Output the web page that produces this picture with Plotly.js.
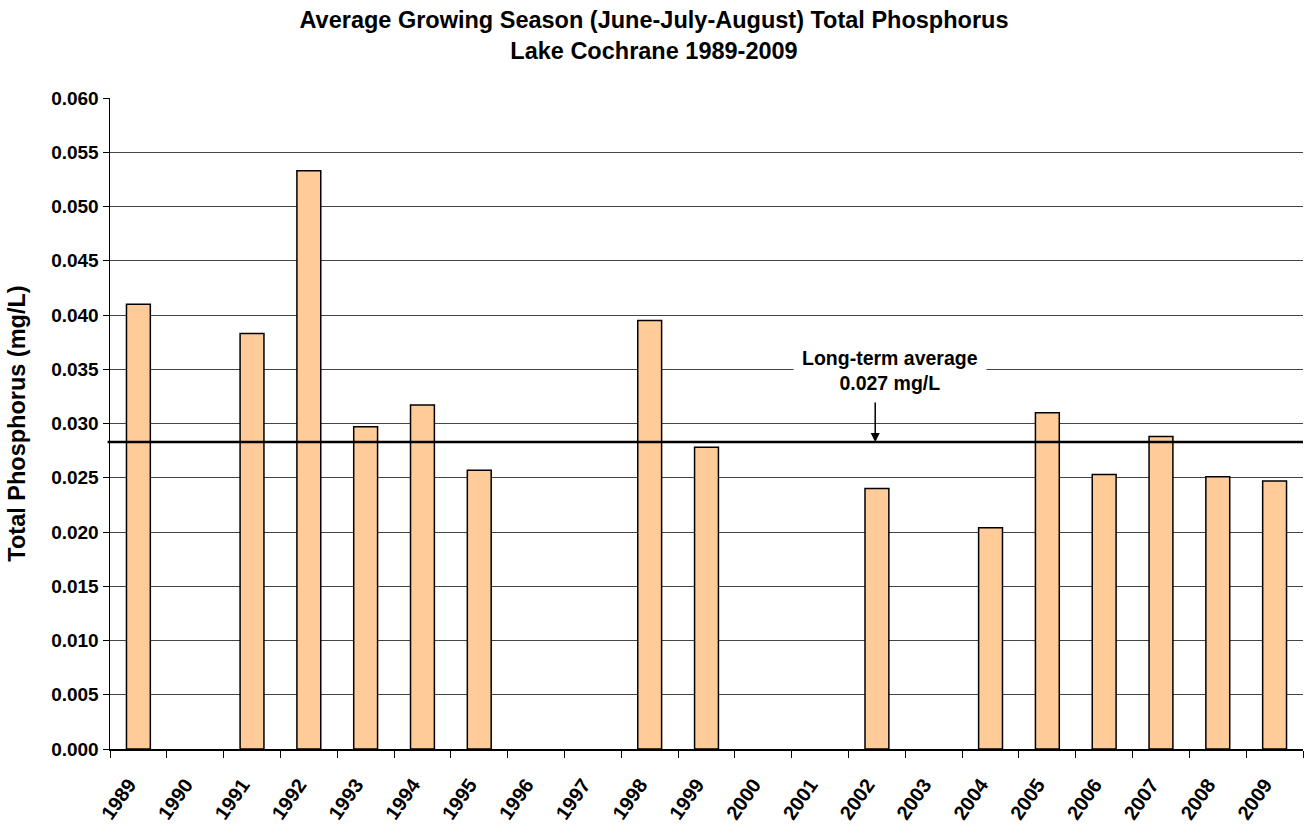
<!DOCTYPE html>
<html>
<head>
<meta charset="utf-8">
<script src="https://cdn.plot.ly/plotly-3.0.1.min.js"></script>
<style>html,body{margin:0;padding:0;background:#fff;}#chart{width:1308px;height:827px;}</style>
</head>
<body>
<div id="chart"></div>
<script>
const years = ['1989','1990','1991','1992','1993','1994','1995','1996','1997','1998','1999','2000','2001','2002','2003','2004','2005','2006','2007','2008','2009'];
const tp = [0.0410, null, 0.0383, 0.0533, 0.0297, 0.0317, 0.0257, null, null, 0.0395, 0.0278, null, null, 0.0240, null, 0.0204, 0.0310, 0.0253, 0.0288, 0.0251, 0.0247];
const longTermAvg = 0.0283;
const avgLabel = 'Long-term average<br>0.027 mg/L';
const yTicks = [0, 0.005, 0.010, 0.015, 0.020, 0.025, 0.030, 0.035, 0.040, 0.045, 0.050, 0.055, 0.060];

const FONT = 'Liberation Sans, Arial, sans-serif';
const PAD = '\u00a0\u00a0\u00a0';

const trace = {
  type: 'bar',
  x: years,
  y: tp,
  marker: {color: '#FFCC99', line: {color: '#000', width: 1.5}},
  hoverinfo: 'x+y'
};

// empty helper trace so the grid-only overlay axis is drawn
const gridHelper = {
  type: 'scatter', mode: 'none',
  x: [years[0]], y: [null],
  yaxis: 'y2', hoverinfo: 'skip', showlegend: false
};

const layout = {
  width: 1308, height: 827,
  margin: {l: 110, r: 5, t: 98, b: 78},
  paper_bgcolor: '#fff', plot_bgcolor: '#fff',
  showlegend: false,
  bargap: 0.58,
  font: {family: FONT, color: '#000'},
  title: {
    text: '<b>Average Growing Season (June-July-August) Total Phosphorus<br>Lake Cochrane 1989-2009</b>',
    font: {family: FONT, size: 23.5, color: '#000'},
    x: 0.5, xref: 'container', xanchor: 'center',
    y: 0.966, yref: 'container', yanchor: 'middle'
  },
  xaxis: {
    type: 'category',
    tickson: 'boundaries',
    tickmode: 'array',
    tickvals: years,
    ticktext: years.map(y => y + PAD),
    ticks: 'outside', ticklen: 7, tickcolor: '#000', tickwidth: 1,
    showline: true, linecolor: '#000', linewidth: 1.5,
    showgrid: false,
    tickangle: -55,
    ticklabelstandoff: 1,
    tickfont: {family: FONT, size: 20, color: '#000', weight: 'bold'},
    range: [-0.5, years.length - 0.5],
    fixedrange: true
  },
  yaxis: {
    range: [0, 0.06],
    tickvals: yTicks,
    tickformat: '.3f',
    ticks: 'outside', ticklen: 6, tickcolor: '#000',
    showline: true, linecolor: '#000', linewidth: 1.5,
    showgrid: false,
    zeroline: false,
    tickfont: {family: FONT, size: 19, color: '#000', weight: 'bold'},
    title: {text: '<b>Total Phosphorus (mg/L)</b>', font: {family: FONT, size: 23.5, color: '#000'}, standoff: 19},
    fixedrange: true
  },
  yaxis2: {
    overlaying: 'y', anchor: 'x', side: 'left',
    range: [0, 0.06],
    tickvals: yTicks.slice(0, -1),
    showticklabels: false, ticks: '',
    showline: false, zeroline: false,
    showgrid: true, gridcolor: '#444', gridwidth: 1,
    fixedrange: true
  },
  shapes: [{
    type: 'line', xref: 'paper', yref: 'y',
    x0: -0.002, x1: 1, y0: longTermAvg, y1: longTermAvg,
    line: {color: '#000', width: 2.5},
    layer: 'above'
  }],
  annotations: [{
    x: 12.97, y: longTermAvg, xref: 'x', yref: 'y',
    text: '',
    showarrow: true, arrowhead: 2, arrowsize: 1.2, arrowwidth: 1.5, arrowcolor: '#000',
    ax: 0, ay: -45
  }, {
    x: 12.97, y: longTermAvg, xref: 'x', yref: 'y',
    text: '<b>' + avgLabel + '</b>',
    showarrow: false,
    xshift: 15, yshift: 71,
    font: {family: FONT, size: 19.5, color: '#000'},
    bgcolor: '#fff', borderpad: 8
  }]
};

Plotly.newPlot('chart', [trace, gridHelper], layout, {displayModeBar: false, staticPlot: true});
</script>
</body>
</html>
